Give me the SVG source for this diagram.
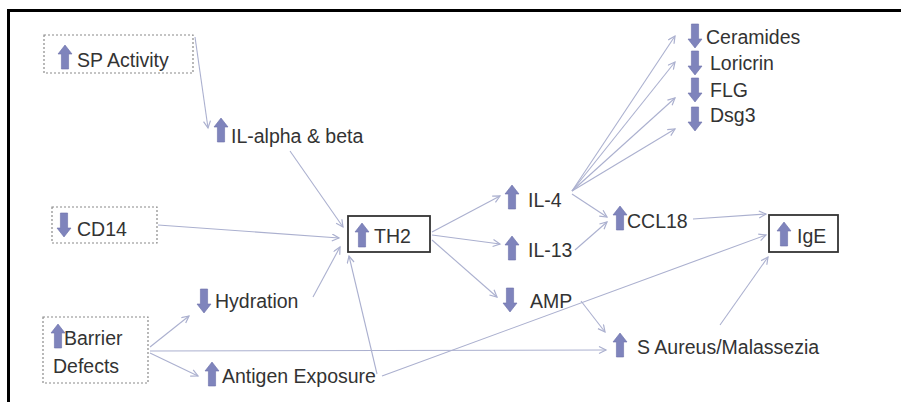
<svg xmlns="http://www.w3.org/2000/svg" width="901" height="402" viewBox="0 0 901 402">
<style>
.t{font-family:"Liberation Sans",Arial,sans-serif;font-size:19.5px;fill:#333}
.c{fill:none;stroke:#abb0cf;stroke-width:1.1;marker-end:url(#ah)}
.dbox{fill:none;stroke:#8a8a8a;stroke-width:1.2;stroke-dasharray:2,2}
.sbox{fill:none;stroke:#333;stroke-width:1.8}
.ic{fill:#7f84bc;stroke:#6b70a9;stroke-width:0.6}
</style>
<defs>
<marker id="ah" markerUnits="userSpaceOnUse" markerWidth="10" markerHeight="10" refX="8" refY="4" orient="auto">
<path d="M1,0.5 L8,4 L1,7.5" fill="none" stroke="#abb0cf" stroke-width="1.2"/>
</marker>
<path id="up" class="ic" d="M0,0 L7,9 L3.6,9 L3.6,24 L-3.6,24 L-3.6,9 L-7,9 Z"/>
<path id="dn" class="ic" d="M-3.6,0 L3.6,0 L3.6,15 L7,15 L0,24 L-7,15 L-3.6,15 Z"/>
</defs>
<rect x="8.5" y="10.5" width="910" height="410" fill="#fff" stroke="#000" stroke-width="3"/>

<g id="connectors">
<path class="c" d="M195,37 L208,128"/>
<path class="c" d="M290,151 L343,227"/>
<path class="c" d="M158,225 L339,238"/>
<path class="c" d="M313,297 L340,247"/>
<path class="c" d="M377,374 L349,256"/>
<path class="c" d="M150,347 L189,316"/>
<path class="c" d="M150,353 L198,376"/>
<path class="c" d="M150,351 L606,350"/>
<path class="c" d="M382,376 L766,235"/>
<path class="c" d="M432,232 L500,196"/>
<path class="c" d="M432,235 L500,244"/>
<path class="c" d="M432,240 L497,297"/>
<path class="c" d="M572,191 L675,36"/>
<path class="c" d="M572,191 L675,62"/>
<path class="c" d="M572,191 L675,98"/>
<path class="c" d="M572,191 L675,129"/>
<path class="c" d="M572,194 L607,217"/>
<path class="c" d="M575,250 L607,222"/>
<path class="c" d="M693,219 L766,214"/>
<path class="c" d="M581,301 L605,332"/>
<path class="c" d="M720,325 L768,257"/>
</g>

<g id="sp-activity">
<rect class="dbox" x="44" y="35" width="149" height="38"/>
<use href="#up" x="65" y="45"/>
<text class="t" x="77" y="67">SP Activity</text>
</g>
<g id="il-alpha-beta">
<use href="#up" x="221" y="118"/>
<text class="t" x="231" y="143">IL-alpha &amp; beta</text>
</g>
<g id="cd14">
<rect class="dbox" x="52" y="207" width="105" height="36"/>
<use href="#dn" x="64" y="213"/>
<text class="t" x="77" y="236">CD14</text>
</g>
<g id="th2">
<rect class="sbox" x="348" y="216" width="82" height="36"/>
<use href="#up" x="362" y="223"/>
<text class="t" x="374" y="243">TH2</text>
</g>
<g id="hydration">
<use href="#dn" x="204" y="289"/>
<text class="t" x="215" y="308">Hydration</text>
</g>
<g id="barrier-defects">
<rect class="dbox" x="43" y="317" width="105" height="66"/>
<use href="#up" x="58" y="324"/>
<text class="t" x="64" y="345">Barrier</text>
<text class="t" x="53" y="373">Defects</text>
</g>
<g id="antigen-exposure">
<use href="#up" x="212" y="362"/>
<text class="t" x="222" y="383">Antigen Exposure</text>
</g>
<g id="il-4">
<use href="#up" x="512" y="185"/>
<text class="t" x="528" y="207">IL-4</text>
</g>
<g id="il-13">
<use href="#up" x="512" y="236"/>
<text class="t" x="528" y="257">IL-13</text>
</g>
<g id="amp">
<use href="#dn" x="510" y="288"/>
<text class="t" x="530" y="308">AMP</text>
</g>
<g id="ccl18">
<use href="#up" x="620" y="206"/>
<text class="t" x="627" y="228">CCL18</text>
</g>
<g id="ige">
<rect class="sbox" x="769" y="215" width="69" height="37"/>
<use href="#up" x="784" y="222"/>
<text class="t" x="797" y="243">IgE</text>
</g>
<g id="s-aureus">
<use href="#up" x="620" y="333"/>
<text class="t" x="637" y="354">S Aureus/Malassezia</text>
</g>
<g id="ceramides">
<use href="#dn" x="695" y="24"/>
<text class="t" x="706" y="44">Ceramides</text>
</g>
<g id="loricrin">
<use href="#dn" x="695" y="51"/>
<text class="t" x="710" y="70">Loricrin</text>
</g>
<g id="flg">
<use href="#dn" x="695" y="78"/>
<text class="t" x="710" y="97">FLG</text>
</g>
<g id="dsg3">
<use href="#dn" x="695" y="107"/>
<text class="t" x="710" y="122">Dsg3</text>
</g>
</svg>
